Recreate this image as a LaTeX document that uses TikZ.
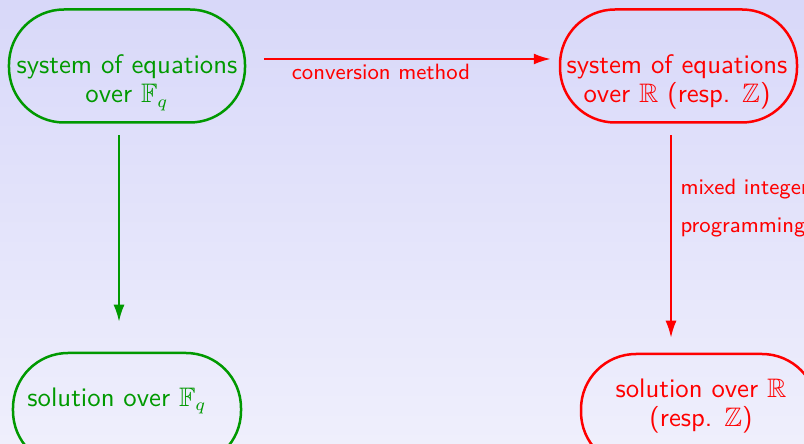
\documentclass[tikz,border=0pt]{standalone}
\usepackage{amssymb}
\usetikzlibrary{arrows.meta}
\renewcommand\familydefault{\sfdefault}
\definecolor{bgtop}{RGB}{216,216,249}
\definecolor{bgbot}{RGB}{239,239,252}
\definecolor{fgreen}{RGB}{0,153,0}
\begin{document}
\begin{tikzpicture}[x=0.4pt,y=-0.4pt,
  box/.style={draw, line width=1pt, rounded corners=22pt,
    minimum width=94.4pt, minimum height=45.2pt, inner sep=0pt},
  txt/.style={font=\fontsize{10.7}{11.7}\selectfont, align=center, inner sep=0pt},
  lbl/.style={font=\fontsize{8.85}{15.2}\selectfont, inner sep=0pt},
  flow/.style={line width=0.8pt, -{Latex[length=6.8pt,width=4.4pt]}}]
\clip (0,0) rectangle (804,444);
\shade[top color=bgtop, bottom color=bgbot] (0,0) rectangle (804,444);

% boxes
\node[box, draw=fgreen] (sysF) at (127,66) {};
\node[box, draw=red, minimum width=94.8pt] (sysR) at (678.5,66) {};
\node[box, draw=fgreen, minimum width=91.2pt] (solF) at (127,409.5) {};
\node[box, draw=red] (solR) at (699,410.5) {};

% box texts (base anchor sits on the last line)
\node[txt, text=fgreen, anchor=base] (sysFt) at (127,103) {system of equations\\ over $\mathbb{F}_q$};
\node[txt, text=red, anchor=base] (sysRt) at (677,103) {system of equations\\ over $\mathbb{R}$ (resp. $\mathbb{Z}$)};
\node[txt, text=fgreen, anchor=base] (solFt) at (117,406.5) {solution over $\mathbb{F}_q$};
\node[txt, text=red, anchor=base] (solRt) at (701,427) {solution over $\mathbb{R}$\\ (resp. $\mathbb{Z}$)};

% connectors
\draw[flow, red, shorten <=7.2pt, shorten >=3.2pt]
  ([yshift=2.8pt]sysF.east) -- ([yshift=2.8pt]sysR.west);
\node[lbl, text=red, anchor=base] (conv) at (381,80) {conversion method};
\draw[flow, fgreen, shorten <=4.6pt, shorten >=12pt]
  ([xshift=-3.2pt]sysF.south) -- ([xshift=-3.2pt]sysF.south |- solF.north);
\draw[flow, red, shorten <=4.6pt, shorten >=6pt]
  ([xshift=-3pt]sysR.south) -- ([xshift=-3pt]sysR.south |- solR.north);
\node[lbl, text=red, anchor=base west, align=left] (milp) at (680,233) {mixed integer\\ programming};
\end{tikzpicture}
\end{document}
